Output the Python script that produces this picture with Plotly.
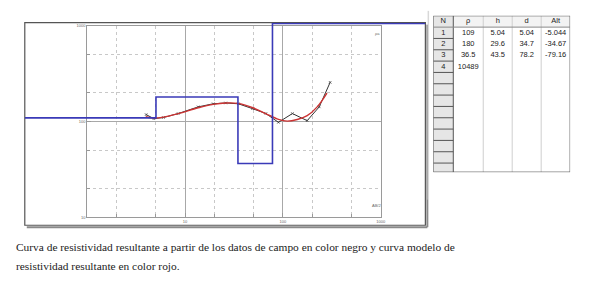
import plotly.graph_objects as go

W, H = 591, 300

# ---- data ----
# field data (black)
field_ab2 = [4, 4.8, 6, 8.5, 13.6, 19.4, 26, 35, 49, 67, 90, 125, 177, 235, 304]
field_rho = [118, 107, 110, 121, 142, 153, 156, 153, 136, 121, 98, 121, 102, 142, 256]
# model curve (red)
model_ab2 = [3.96, 4.77, 6.03, 8.55, 13.6, 19.4, 26.2, 34.7, 49.2, 66.6, 90.2, 110.6, 140, 177, 224, 282]
model_rho = [112, 108.6, 111, 121, 139, 151, 156, 154.5, 139, 121, 105, 101, 105, 115, 142, 198]
# layered model (blue)
layer_rho = [109, 180, 36.5, 10489]
layer_d = [5.04, 34.7, 78.2]
# table columns
tbl_header = ["N", "ρ", "h", "d", "Alt"]
tbl_N = ["1", "2", "3", "4"]
tbl_rho = ["109", "180", "36.5", "10489"]
tbl_h = ["5.04", "29.6", "43.5"]
tbl_d = ["5.04", "34.7", "78.2"]
tbl_alt = ["-5.044", "-34.67", "-79.16"]

caption1 = "Curva de resistividad resultante a partir de los datos de campo en color negro y curva modelo de"
caption2 = "resistividad resultante en color rojo."

# ---- geometry helpers (pixels -> paper) ----
def px(x):
    return x / W

def py(y):
    return 1 - y / H

PL, PR, PT, PB = 88, 384, 23, 218      # plot area
FL, FR, FT, FB = 25, 429, 20, 226      # outer frame
TL, TR, TT, TB = 437, 575, 13, 172     # table
xdec = (PR - PL) / 3.0
ydec = (PB - PT) / 2.0

fig = go.Figure()

# field data
fig.add_trace(go.Scatter(x=field_ab2, y=field_rho, mode="lines+markers",
                         line=dict(color="#333333", width=1),
                         marker=dict(symbol="x-thin", size=2.5, line=dict(width=0.8, color="#444444")),
                         xaxis="x", yaxis="y", showlegend=False))
# model response
fig.add_trace(go.Scatter(x=model_ab2, y=model_rho, mode="lines",
                         line=dict(color="#cc3333", width=1.4, shape="spline"),
                         xaxis="x", yaxis="y", showlegend=False))

# blue layered model on overlay axes covering the whole frame (clipped to frame like the original)
x2_lo = (FL - PL) / xdec
x2_hi = (FR - PL) / xdec
y2_hi = 3 + (PT - FT) / ydec
y2_lo = 1 - (FB - PB) / ydec
ytop_clip = 10 ** (y2_hi - 0.9 / ydec)
bx = [10 ** x2_lo]
by = [layer_rho[0]]
for i, d in enumerate(layer_d):
    bx += [d, d]
    by += [layer_rho[i], layer_rho[i + 1]]
bx.append(10 ** x2_hi)
by.append(layer_rho[-1])
by = [min(v, ytop_clip) for v in by]
fig.add_trace(go.Scatter(x=bx, y=by, mode="lines",
                         line=dict(color="#3a3ab8", width=1.6),
                         xaxis="x2", yaxis="y2", showlegend=False))

# ---- table drawn on its own axes ----
col_w = [20, 30, 29, 29, 29]
edges = [0]
for w in col_w:
    edges.append(edges[-1] + w)
centers = [(edges[i] + edges[i + 1]) / 2 for i in range(len(col_w))]
nrows_vis = 12.8   # rows visible below header
columns = [tbl_N, tbl_rho, tbl_h, tbl_d, tbl_alt]

tx, ty, tt = [], [], []
for c, name in enumerate(tbl_header):
    tx.append(centers[c]); ty.append(0.5); tt.append(name)
for c, col in enumerate(columns):
    for r, v in enumerate(col):
        tx.append(centers[c]); ty.append(1.5 + r); tt.append(v)
fig.add_trace(go.Scatter(x=tx, y=ty, text=tt, mode="text",
                         textfont=dict(family="Liberation Sans", size=7.5, color="#222222"),
                         xaxis="x3", yaxis="y3", showlegend=False, hoverinfo="skip"))

ybot = 1 + nrows_vis
tshapes = []
tshapes.append(dict(type="rect", xref="x3", yref="y3", x0=edges[0], x1=edges[1], y0=0, y1=ybot,
                    fillcolor="#e6e6e6", line=dict(width=0), layer="below"))
tshapes.append(dict(type="rect", xref="x3", yref="y3", x0=edges[1], x1=edges[-1], y0=0, y1=1,
                    fillcolor="#f3f3f3", line=dict(width=0), layer="below"))
for i, e in enumerate(edges):
    dark = i in (0, 1, len(edges) - 1)
    tshapes.append(dict(type="line", xref="x3", yref="y3", x0=e, x1=e, y0=0, y1=ybot,
                        line=dict(color="#555" if dark else "#cfcfcf", width=1)))
tshapes.append(dict(type="line", xref="x3", yref="y3", x0=edges[0], x1=edges[-1], y0=0, y1=0,
                    line=dict(color="#555", width=1)))
tshapes.append(dict(type="line", xref="x3", yref="y3", x0=edges[0], x1=edges[-1], y0=1, y1=1,
                    line=dict(color="#888", width=1)))
tshapes.append(dict(type="line", xref="x3", yref="y3", x0=edges[0], x1=edges[-1], y0=ybot, y1=ybot,
                    line=dict(color="#555", width=1)))
r = 2
while r < ybot:
    tshapes.append(dict(type="line", xref="x3", yref="y3", x0=edges[0], x1=edges[1], y0=r, y1=r,
                        line=dict(color="#555", width=1)))
    r += 1

grid_minor = dict(showgrid=True, gridcolor="#c8c8c8", griddash="dot", gridwidth=1,
                  ticks="inside", ticklen=3, tickcolor="#999")

fig.update_layout(
    width=W, height=H, margin=dict(l=0, r=0, t=0, b=0),
    paper_bgcolor="white", plot_bgcolor="rgba(0,0,0,0)",
    xaxis=dict(type="log", range=[0, 3], domain=[px(PL), px(PR)], anchor="y",
               tickvals=[10, 100, 1000], ticktext=["10", "100", "1000"],
               tickfont=dict(size=4, color="#666", family="Liberation Sans"),
               ticks="inside", ticklen=4, tickcolor="#999",
               showgrid=True, gridcolor="#a8a8a8", gridwidth=1,
               showline=True, linecolor="#9a9a9a", linewidth=1, mirror=True,
               minor=dict(tickvals=[2, 5, 20, 50, 200, 500], **grid_minor),
               zeroline=False),
    yaxis=dict(type="log", range=[1, 3], domain=[py(PB), py(PT)], anchor="x",
               tickvals=[10, 100, 1000], ticktext=["10", "100", "1000"],
               tickfont=dict(size=4, color="#666", family="Liberation Sans"),
               ticks="inside", ticklen=4, tickcolor="#999",
               showgrid=True, gridcolor="#a8a8a8", gridwidth=1,
               showline=True, linecolor="#9a9a9a", linewidth=1, mirror=True,
               minor=dict(tickvals=[20, 50, 200, 500], **grid_minor),
               zeroline=False),
    xaxis2=dict(type="log", range=[x2_lo, x2_hi], domain=[px(FL), px(FR)], anchor="y2",
                visible=False, showgrid=False),
    yaxis2=dict(type="log", range=[y2_lo, y2_hi], domain=[py(FB), py(FT)], anchor="x2",
                visible=False, showgrid=False),
    xaxis3=dict(range=[edges[0], edges[-1]], domain=[px(TL), px(TR)], anchor="y3",
                visible=False, showgrid=False, fixedrange=True),
    yaxis3=dict(range=[ybot, 0], domain=[py(TB), py(TT)], anchor="x3",
                visible=False, showgrid=False, fixedrange=True),
)

shapes = [
    dict(type="line", xref="paper", yref="paper", x0=px(FL + 2), x1=px(FR + 2), y0=py(FB + 2), y1=py(FB + 2),
         line=dict(color="#8a8a8a", width=2), layer="below"),
    dict(type="line", xref="paper", yref="paper", x0=px(FR + 2), x1=px(FR + 2), y0=py(FT + 2), y1=py(FB + 2),
         line=dict(color="#8a8a8a", width=2), layer="below"),
    dict(type="rect", xref="paper", yref="paper", x0=px(FL), x1=px(FR), y0=py(FB), y1=py(FT),
         line=dict(color="#555555", width=1.2), fillcolor="white", layer="below"),
    dict(type="line", xref="paper", yref="paper", x0=px(432), x1=px(432), y0=py(8), y1=py(200),
         line=dict(color="#d8d8d8", width=1.5), layer="below"),
] + tshapes
fig.update_layout(shapes=shapes)

annotations = []
for text, x, y in [("AB/2", 380, 211), ("ρa", 381, 26)]:
    annotations.append(dict(xref="paper", yref="paper", showarrow=False, x=px(x), y=py(y),
                            text=text, font=dict(size=4, color="#666", family="Liberation Sans")))
annotations.append(dict(xref="paper", yref="paper", showarrow=False, x=px(14), y=py(248),
                        xanchor="left", yanchor="middle", text=caption1,
                        font=dict(size=11.4, color="#222", family="Liberation Serif")))
annotations.append(dict(xref="paper", yref="paper", showarrow=False, x=px(14), y=py(267),
                        xanchor="left", yanchor="middle", text=caption2,
                        font=dict(size=11.4, color="#222", family="Liberation Serif")))
fig.update_layout(annotations=annotations)

fig.write_html("out.html")
